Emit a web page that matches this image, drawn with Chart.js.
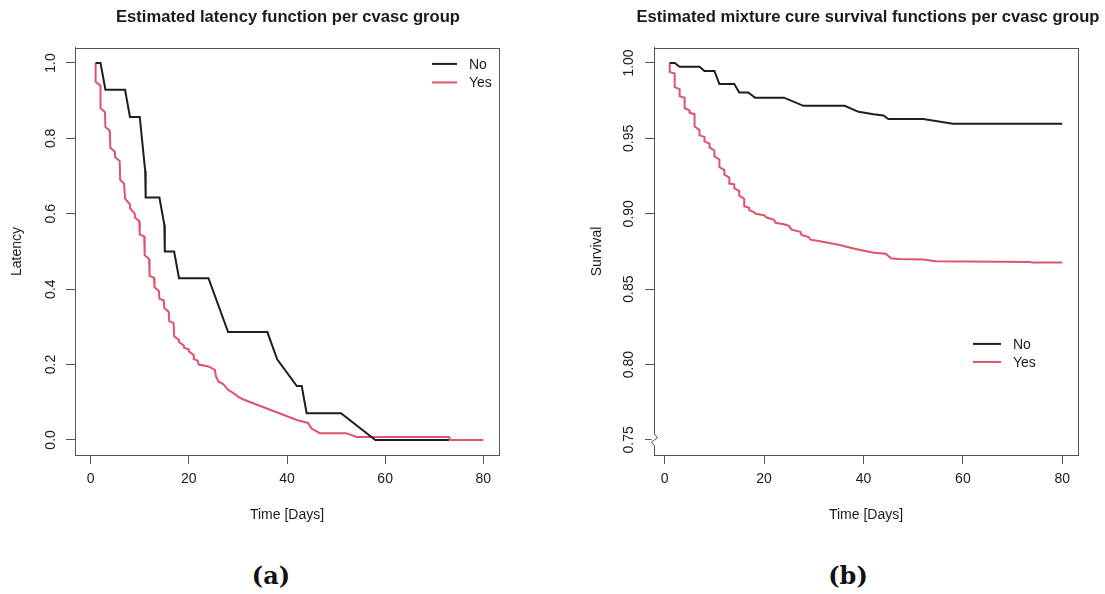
<!DOCTYPE html>
<html>
<head>
<meta charset="utf-8">
<script src="https://cdn.jsdelivr.net/npm/chart.js@4.4.1/dist/chart.umd.min.js"></script>
<style>
  body { margin: 0; background: #fff; }
  #wrap { position: relative; width: 1105px; height: 594px; overflow: hidden; background: #fff; }
  canvas { position: absolute; top: 0; }
  #chartA { left: 0; }
  #chartB { left: 588px; }
  .cap { position: absolute; top: 575px; transform: translate(-50%, -50%); font: bold 24px 'DejaVu Serif', serif; color: #111; }
</style>
</head>
<body>
<div id="wrap">
  <canvas id="chartA" width="576" height="540"></canvas>
  <canvas id="chartB" width="560" height="540"></canvas>
  <div class="cap" style="left:271px">(a)</div>
  <div class="cap" style="left:848px">(b)</div>
</div>
<script>
// Groupes et couleurs
const groups = ['No', 'Yes'];
const groupColors = ['#1e1e1e', '#DF536B'];

// (a) latence estimee
const timeNoA = [1, 2, 3, 7, 8, 10, 11.1, 11.2, 14, 15, 15.1, 17, 18, 24, 28, 36, 38, 42, 43, 44, 51, 58, 73];
const latNoA  = [1, 1, 0.929, 0.929, 0.857, 0.857, 0.714, 0.643, 0.643, 0.571, 0.5, 0.5, 0.429, 0.429, 0.286, 0.286, 0.214, 0.143, 0.143, 0.071, 0.071, 0, 0];

const timeYesA = [1, 1, 2, 2, 2.9, 3, 3.9, 4, 4.9, 5, 5.9, 6, 6.8, 7, 8, 8, 9, 9, 9.9, 10, 10.9, 11, 11.9, 12,
  12.9, 13, 13.9, 14, 14.9, 15, 15.9, 16, 16.9, 17, 18, 18, 19, 19, 20, 20, 21, 21, 21.8, 22, 24, 25.3, 25.5,
  26, 27, 28, 29, 30, 31, 42, 44.3, 45, 46.7, 52, 54.2, 73, 73.3, 80];
const latYesA = [1, 0.95, 0.94, 0.88, 0.87, 0.83, 0.82, 0.775, 0.765, 0.75, 0.74, 0.69, 0.68, 0.64, 0.625, 0.615,
  0.6, 0.59, 0.58, 0.545, 0.54, 0.49, 0.48, 0.435, 0.43, 0.405, 0.395, 0.375, 0.37, 0.35, 0.34, 0.315, 0.31,
  0.275, 0.265, 0.26, 0.25, 0.245, 0.24, 0.235, 0.225, 0.215, 0.21, 0.2, 0.195, 0.186, 0.17, 0.155, 0.148,
  0.133, 0.125, 0.115, 0.108, 0.053, 0.045, 0.03, 0.018, 0.018, 0.008, 0.008, 0, 0];

// (b) survie (modele de guerison)
const timeNoB = [1, 2, 3, 7, 8, 10, 11, 14, 15, 16.8, 18.2, 24, 27.9, 36.2, 39, 42, 44, 45, 52, 58, 80];
const survNoB = [1, 1, 0.9975, 0.9975, 0.9947, 0.9947, 0.986, 0.986, 0.9805, 0.9805, 0.977, 0.977, 0.9716,
  0.9716, 0.9676, 0.966, 0.9652, 0.9628, 0.9628, 0.9597, 0.9597];

const timeYesB = [1, 1, 2, 2, 3, 3, 4, 4, 5, 5, 6, 6, 7, 7, 8, 8, 9, 9, 10, 10, 11, 11, 12, 12, 13, 13, 14, 14,
  15, 15, 16, 16, 17, 17, 18, 18.3, 20, 20.5, 22, 22.3, 24, 25, 25.5, 27.3, 27.5, 29, 29.3, 31, 35, 38, 42,
  44.5, 45.5, 47, 52, 54.5, 73.5, 74, 80];
const survYesB = [1, 0.994, 0.993, 0.984, 0.9827, 0.978, 0.977, 0.970, 0.9685, 0.967, 0.966, 0.958, 0.9555,
  0.952, 0.951, 0.948, 0.9465, 0.944, 0.942, 0.938, 0.936, 0.931, 0.929, 0.926, 0.924, 0.920, 0.9195, 0.917,
  0.915, 0.912, 0.910, 0.905, 0.904, 0.9025, 0.901, 0.9, 0.899, 0.8975, 0.896, 0.894, 0.893, 0.892, 0.8895,
  0.888, 0.886, 0.8845, 0.8828, 0.882, 0.8795, 0.877, 0.8742, 0.8735, 0.8705, 0.87, 0.8697, 0.8685, 0.868,
  0.8676, 0.8676];

// Graduations
const xTicks = [0, 20, 40, 60, 80];
const yTicksA = [0, 0.2, 0.4, 0.6, 0.8, 1.0];
const yLabelsA = ['0.0', '0.2', '0.4', '0.6', '0.8', '1.0'];
const yTicksB = [0.75, 0.80, 0.85, 0.90, 0.95, 1.00];
const yLabelsB = ['0.75', '0.80', '0.85', '0.90', '0.95', '1.00'];

const axisColor = '#555';
const textColor = '#1a1a1a';
const sans = "'Liberation Sans', Arial, sans-serif";

function toPoints(xs, ys) {
    return xs.map((x, i) => ({ x: x, y: ys[i] }));
}

function makeDataset(label, idx, xs, ys) {
    return {
        label: label,
        data: toPoints(xs, ys),
        borderColor: groupColors[idx],
        borderWidth: 2,
        pointRadius: 0,
        tension: 0,
        fill: false
    };
}

// Cadre, coupure d'axe et legende facon R
const framePlugin = {
    id: 'frame',
    afterDraw(chart, args, opts) {
        const { ctx, chartArea: a } = chart;
        ctx.save();
        ctx.strokeStyle = axisColor;
        ctx.lineWidth = 1;
        const l = Math.round(a.left) + 0.5, t = Math.round(a.top) + 0.5;
        ctx.strokeRect(l, t, Math.round(a.right - a.left), Math.round(a.bottom - a.top));

        if (opts.breakAt != null) {
            const y = chart.scales.y.getPixelForValue(opts.breakAt);
            ctx.fillStyle = '#fff';
            ctx.fillRect(l - 3, y - 6, 6, 12);
            ctx.beginPath();
            ctx.moveTo(l, y - 6);
            ctx.lineTo(l + 3, y - 2);
            ctx.lineTo(l - 3, y + 2);
            ctx.lineTo(l, y + 6);
            ctx.stroke();
        }

        if (opts.legend) {
            const lg = opts.legend;
            ctx.font = '14px ' + sans;
            ctx.textBaseline = 'middle';
            ctx.textAlign = 'left';
            chart.data.datasets.forEach((ds, i) => {
                const y = a.top + lg.dy + i * lg.gap;
                const x0 = a.right - lg.dx;
                ctx.strokeStyle = ds.borderColor;
                ctx.lineWidth = 2;
                ctx.beginPath();
                ctx.moveTo(x0, y);
                ctx.lineTo(x0 + lg.len, y);
                ctx.stroke();
                ctx.fillStyle = textColor;
                ctx.fillText(ds.label, x0 + lg.len + 12, y + 1);
            });
        }
        ctx.restore();
    }
};

function makeChart(id, datasets, cfg) {
    return new Chart(document.getElementById(id), {
        type: 'line',
        data: { datasets: datasets },
        plugins: [framePlugin],
        options: {
            responsive: false,
            animation: false,
            layout: { padding: 0 },
            plugins: {
                legend: { display: false },
                tooltip: { enabled: false },
                title: {
                    display: true,
                    text: cfg.title,
                    color: textColor,
                    font: { family: sans, size: 16.6, weight: 'bold' },
                    padding: { top: 7, bottom: 21 }
                },
                frame: { legend: cfg.legend, breakAt: cfg.breakAt }
            },
            scales: {
                x: {
                    type: 'linear',
                    min: cfg.xMin,
                    max: cfg.xMax,
                    afterBuildTicks: s => { s.ticks = xTicks.map(v => ({ value: v })); },
                    afterFit: s => { s.height = 85; },
                    ticks: {
                        autoSkip: false, maxRotation: 0, minRotation: 0,
                        color: textColor, padding: 7,
                        font: { family: sans, size: 14 },
                        callback: v => String(v)
                    },
                    grid: { drawOnChartArea: false, drawTicks: true, tickLength: 9, color: axisColor },
                    border: { display: true, color: axisColor, width: 1 },
                    title: {
                        display: true, text: 'Time [Days]', color: textColor,
                        font: { family: sans, size: 14 },
                        padding: { top: 0, bottom: 16.6 }
                    }
                },
                y: {
                    type: 'linear',
                    min: cfg.yMin,
                    max: cfg.yMax,
                    afterBuildTicks: s => { s.ticks = cfg.yTicks.map(v => ({ value: v })); },
                    afterFit: s => { s.width = cfg.yWidth; },
                    ticks: {
                        autoSkip: false, minRotation: 90, maxRotation: 90,
                        crossAlign: 'center',
                        color: textColor, padding: cfg.yPad,
                        font: { family: sans, size: 14 },
                        callback: (v, i) => cfg.yLabels[i]
                    },
                    grid: { drawOnChartArea: false, drawTicks: true, tickLength: 9, color: axisColor },
                    border: { display: true, color: axisColor, width: 1 },
                    title: {
                        display: true, text: cfg.yTitle, color: textColor,
                        font: { family: sans, size: 14 },
                        padding: { top: cfg.yTitlePad, bottom: 0 }
                    }
                },
                // marge droite (axe vide) pour garder le titre centre
                gap: {
                    type: 'linear',
                    axis: 'y',
                    position: 'right',
                    afterFit: s => { s.width = cfg.rightGap; },
                    ticks: { display: false },
                    grid: { display: false },
                    border: { display: false }
                }
            }
        }
    });
}

document.addEventListener('DOMContentLoaded', () => {
    makeChart('chartA', [
        makeDataset(groups[0], 0, timeNoA, latNoA),
        makeDataset(groups[1], 1, timeYesA, latYesA)
    ], {
        title: 'Estimated latency function per cvasc group',
        rightGap: 77, yWidth: 75, yPad: 5, yTitlePad: 8.6,
        xMin: -3.2, xMax: 83.2, yMin: -0.04, yMax: 1.04,
        yTicks: yTicksA, yLabels: yLabelsA, yTitle: 'Latency',
        legend: { dx: 67, dy: 16, gap: 18.5, len: 25 }
    });

    makeChart('chartB', [
        makeDataset(groups[0], 0, timeNoB, survNoB),
        makeDataset(groups[1], 1, timeYesB, survYesB)
    ], {
        title: 'Estimated mixture cure survival functions per cvasc group',
        rightGap: 70, yWidth: 66, yPad: 2, yTitlePad: 0.6,
        xMin: -2.16, xMax: 83.16, yMin: 0.74, yMax: 1.01,
        yTicks: yTicksB, yLabels: yLabelsB, yTitle: 'Survival',
        legend: { dx: 105, dy: 296, gap: 18, len: 28 },
        breakAt: 0.75
    });
});
</script>
</body>
</html>
